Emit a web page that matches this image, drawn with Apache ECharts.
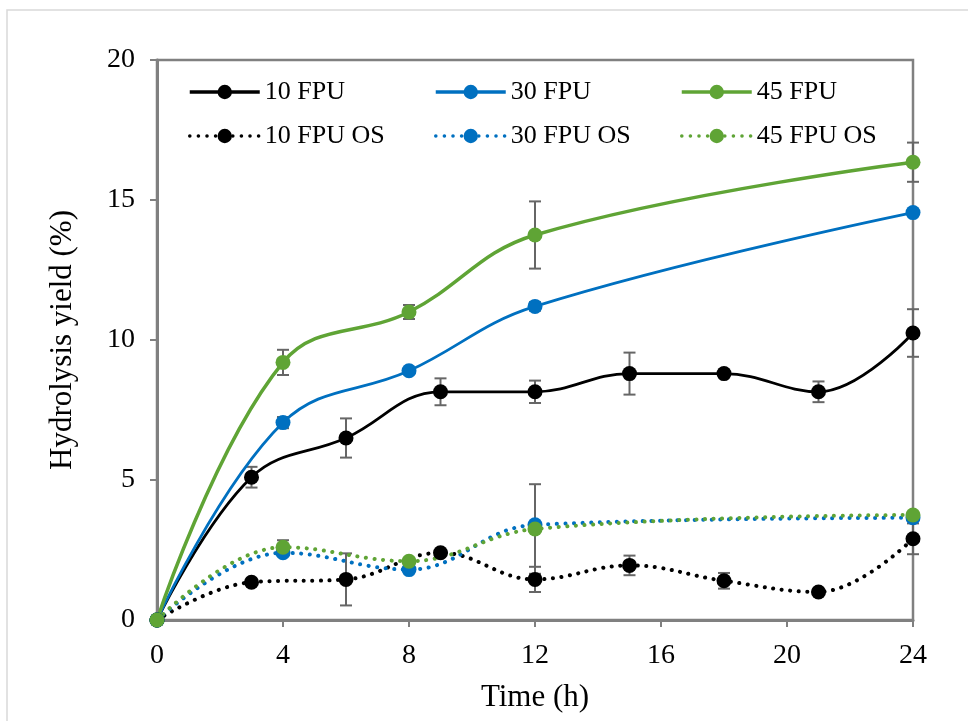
<!DOCTYPE html>
<html>
<head>
<meta charset="utf-8">
<script src="https://cdn.jsdelivr.net/npm/echarts@6/dist/echarts.min.js"></script>
<style>
  html, body { margin: 0; padding: 0; background: #fff; }
  #main { width: 968px; height: 721px; }
</style>
</head>
<body>
<div id="main"></div>
<script>
// sampling times
var hours10 = [0, 3, 6, 9, 12, 15, 18, 21, 24];
var hoursHigh = [0, 4, 8, 12, 24];

// hydrolysis yield (%) and error
var fpu10 = [0, 5.1, 6.5, 8.15, 8.15, 8.8, 8.8, 8.15, 10.25];
var fpu10Err = [0, 0.37, 0.7, 0.48, 0.4, 0.75, 0, 0.37, 0.85];
var fpu30 = [0, 7.05, 8.9, 11.2, 14.55];
var fpu30Err = [0, 0.2, 0.1, 0.15, 0.1];
var fpu45 = [0, 9.2, 11.0, 13.75, 16.35];
var fpu45Err = [0, 0.45, 0.25, 1.2, 0.7];
var fpu10OS = [0, 1.35, 1.45, 2.4, 1.45, 1.95, 1.4, 1.0, 2.9];
var fpu10OSErr = [0, 0, 0.93, 0, 0.45, 0.35, 0.28, 0, 0.55];
var fpu30OS = [0, 2.4, 1.8, 3.4, 3.65];
var fpu30OSErr = [0, 0, 0, 0, 0];
var fpu45OS = [0, 2.6, 2.1, 3.25, 3.75];
var fpu45OSErr = [0, 0.25, 0.1, 1.6, 0.1];

var BLACK = '#000000';
var BLUE = '#0070c0';
var GREEN = '#5fa435';
var FONT = 'Liberation Serif';

function pairs(xs, ys) {
    return xs.map(function (x, i) { return [x, ys[i]]; });
}
function errData(xs, ys, es) {
    var out = [];
    xs.forEach(function (x, i) {
        if (es[i] > 0) out.push([x, ys[i], es[i]]);
    });
    return out;
}

function lineSeries(name, xs, ys, color, dotted, width) {
    return {
        name: name,
        type: 'line',
        data: pairs(xs, ys),
        smooth: 0.4,
        symbol: 'circle',
        symbolSize: 15,
        itemStyle: { color: color },
        lineStyle: dotted
            ? { color: color, width: 4, type: [0.1, 8.5], cap: 'round' }
            : { color: color, width: width },
        z: 3
    };
}

function errSeries(data) {
    return {
        type: 'custom',
        data: data,
        z: 2,
        silent: true,
        renderItem: function (params, api) {
            var x = api.value(0), y = api.value(1), e = api.value(2);
            var top = api.coord([x, y + e]);
            var bot = api.coord([x, y - e]);
            var w = 6;
            var st = { stroke: '#666666', lineWidth: 2 };
            return {
                type: 'group',
                children: [
                    { type: 'line', shape: { x1: top[0], y1: top[1], x2: bot[0], y2: bot[1] }, style: st },
                    { type: 'line', shape: { x1: top[0] - w, y1: top[1], x2: top[0] + w, y2: top[1] }, style: st },
                    { type: 'line', shape: { x1: bot[0] - w, y1: bot[1], x2: bot[0] + w, y2: bot[1] }, style: st }
                ]
            };
        }
    };
}

var myChart = echarts.init(document.getElementById('main'));

var legendBase = {
    orient: 'vertical',
    top: 78,
    padding: 0,
    itemGap: 16,
    itemWidth: 70,
    itemHeight: 18,
    lineStyle: { width: 3.5 },
    textStyle: { fontFamily: FONT, fontSize: 26, color: '#000', lineHeight: 28 }
};

var option = {
    animation: false,
    backgroundColor: '#fff',
    graphic: [{
        type: 'rect',
        shape: { x: 7, y: 10, width: 1100, height: 900 },
        style: { fill: 'none', stroke: '#d9d9d9', lineWidth: 1.5 },
        silent: true
    }],
    legend: [
        Object.assign({ left: 188, data: ['10 FPU', '10 FPU OS'] }, legendBase),
        Object.assign({ left: 434, data: ['30 FPU', '30 FPU OS'] }, legendBase),
        Object.assign({ left: 680, data: ['45 FPU', '45 FPU OS'] }, legendBase)
    ],
    grid: {
        left: 157, right: 55, top: 60, bottom: 101,
        show: true, borderColor: '#808080', borderWidth: 2.5
    },
    xAxis: {
        type: 'value',
        min: 0, max: 24, interval: 4,
        name: 'Time (h)',
        nameLocation: 'middle',
        nameGap: 62,
        nameTextStyle: { fontFamily: FONT, fontSize: 31, color: '#000' },
        axisLine: { lineStyle: { color: '#808080', width: 3 } },
        axisTick: { show: true, length: 7, lineStyle: { color: '#808080', width: 2 } },
        axisLabel: { margin: 22, fontFamily: FONT, fontSize: 28, color: '#000' },
        splitLine: { show: false }
    },
    yAxis: {
        type: 'value',
        min: 0, max: 20, interval: 5,
        name: 'Hydrolysis yield (%)',
        nameLocation: 'middle',
        nameGap: 79,
        nameTextStyle: { fontFamily: FONT, fontSize: 31, color: '#000' },
        axisLine: { show: true, lineStyle: { color: '#808080', width: 3 } },
        axisTick: { show: true, length: 7, lineStyle: { color: '#808080', width: 2 } },
        axisLabel: { margin: 22, fontFamily: FONT, fontSize: 28, color: '#000' },
        splitLine: { show: false }
    },
    series: [
        errSeries(errData(hours10, fpu10, fpu10Err)),
        errSeries(errData(hoursHigh, fpu30, fpu30Err)),
        errSeries(errData(hoursHigh, fpu45, fpu45Err)),
        errSeries(errData(hours10, fpu10OS, fpu10OSErr)),
        errSeries(errData(hoursHigh, fpu30OS, fpu30OSErr)),
        errSeries(errData(hoursHigh, fpu45OS, fpu45OSErr)),
        lineSeries('10 FPU', hours10, fpu10, BLACK, false, 2.8),
        lineSeries('30 FPU', hoursHigh, fpu30, BLUE, false, 2.8),
        lineSeries('45 FPU', hoursHigh, fpu45, GREEN, false, 3.5),
        lineSeries('10 FPU OS', hours10, fpu10OS, BLACK, true),
        lineSeries('30 FPU OS', hoursHigh, fpu30OS, BLUE, true),
        lineSeries('45 FPU OS', hoursHigh, fpu45OS, GREEN, true)
    ]
};

myChart.setOption(option);
</script>
</body>
</html>
